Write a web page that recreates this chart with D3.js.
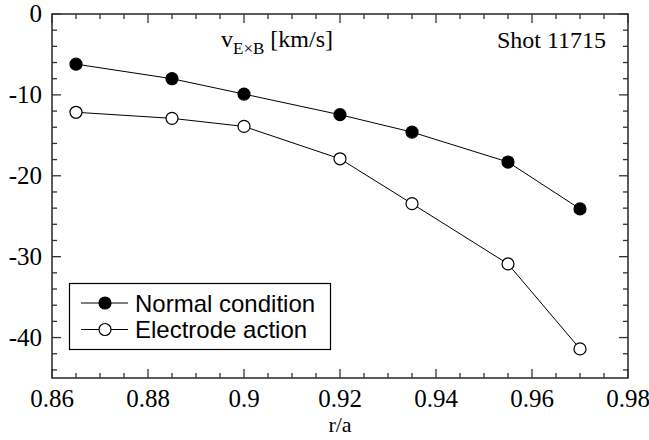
<!DOCTYPE html>
<html>
<head>
<meta charset="utf-8">
<script src="https://cdn.jsdelivr.net/npm/d3@7"></script>
<style>
  body { margin: 0; background: #fff; }
  svg { display: block; }
  .serif { font-family: 'Liberation Serif', 'DejaVu Serif', 'Times New Roman', serif; }
  .sans { font-family: 'Liberation Sans', Arial, sans-serif; }
</style>
</head>
<body>
<script>
// data
const rOverA = [0.865, 0.885, 0.9, 0.92, 0.935, 0.955, 0.97]
const normalCond = [-6.2, -8.0, -9.9, -12.45, -14.6, -18.3, -24.1]
const electrodeAct = [-12.15, -12.9, -13.9, -17.9, -23.45, -30.9, -41.4]
const xTicks = [0.86, 0.88, 0.9, 0.92, 0.94, 0.96, 0.98]
const yTicks = [0, -10, -20, -30, -40]
const seriesNames = ['Normal condition', 'Electrode action']

const W = 649, H = 440
const pLeft = 52, pRight = 628, pTop = 14, pBottom = 378

let svg = d3.select('body').append('svg').attr('width', W).attr('height', H)

let x = d3.scaleLinear().domain([0.86, 0.98]).range([pLeft, pRight])
let y = d3.scaleLinear().domain([-45, 0]).range([pBottom, pTop])

const axisCol = '#333'

// minor ticks
let xMinor = d3.range(0.86, 0.9801, 0.005)
let yMinor = d3.range(-44, 0.01, 2)

let ticks = svg.append('g').attr('stroke', axisCol).attr('stroke-width', 1.3)
xMinor.forEach(v => {
  let major = xTicks.some(t => Math.abs(t - v) < 1e-6)
  let len = major ? 9 : 5
  ticks.append('line').attr('x1', x(v)).attr('x2', x(v)).attr('y1', pBottom).attr('y2', pBottom - len)
  ticks.append('line').attr('x1', x(v)).attr('x2', x(v)).attr('y1', pTop).attr('y2', pTop + len)
})
yMinor.forEach(v => {
  let major = yTicks.some(t => Math.abs(t - v) < 1e-6)
  let len = major ? 9 : 5
  ticks.append('line').attr('y1', y(v)).attr('y2', y(v)).attr('x1', pLeft).attr('x2', pLeft + len)
  ticks.append('line').attr('y1', y(v)).attr('y2', y(v)).attr('x1', pRight).attr('x2', pRight - len)
})

// frame
svg.append('rect')
  .attr('x', pLeft).attr('y', pTop)
  .attr('width', pRight - pLeft).attr('height', pBottom - pTop)
  .attr('fill', 'none').attr('stroke', axisCol).attr('stroke-width', 1.6)

// tick labels
svg.append('g').selectAll('text').data(xTicks).enter().append('text')
  .attr('class', 'serif')
  .attr('x', d => x(d)).attr('y', 407)
  .attr('text-anchor', 'middle')
  .attr('font-size', 25)
  .text(d => d3.format('.2~f')(d))

svg.append('g').selectAll('text').data(yTicks).enter().append('text')
  .attr('class', 'serif')
  .attr('x', 42).attr('y', d => y(d) + 8)
  .attr('text-anchor', 'end')
  .attr('font-size', 25)
  .text(d => d)

svg.append('text').attr('class', 'serif')
  .attr('x', x(0.92)).attr('y', 432)
  .attr('text-anchor', 'middle')
  .attr('font-size', 22)
  .text('r/a')

// title inside plot
let t = svg.append('text').attr('class', 'serif').attr('x', 221).attr('y', 47)
  .attr('font-size', 24)
t.append('tspan').text('v')
t.append('tspan').attr('dy', 7).attr('font-size', 17).text('E×B')
t.append('tspan').attr('dy', -7).text(' [km/s]')

svg.append('text').attr('class', 'serif')
  .attr('x', 606).attr('y', 48)
  .attr('text-anchor', 'end')
  .attr('font-size', 24)
  .text('Shot 11715')

// series
let line = d3.line().x(d => x(d[0])).y(d => y(d[1]))
let series = [
  { name: seriesNames[0], vals: normalCond, fill: '#000' },
  { name: seriesNames[1], vals: electrodeAct, fill: '#fff' }
]

series.forEach(s => {
  let pts = rOverA.map((r, i) => [r, s.vals[i]])
  svg.append('path').attr('d', line(pts))
    .attr('fill', 'none').attr('stroke', '#000').attr('stroke-width', 1)
  svg.append('g').selectAll('circle').data(pts).enter().append('circle')
    .attr('cx', d => x(d[0])).attr('cy', d => y(d[1])).attr('r', 6)
    .attr('fill', s.fill).attr('stroke', '#000').attr('stroke-width', 1.2)
})

// legend
let lg = svg.append('g')
lg.append('rect').attr('x', 69.5).attr('y', 283.5).attr('width', 261).attr('height', 66)
  .attr('fill', '#fff').attr('stroke', '#000').attr('stroke-width', 1.2)

let legend = lg.selectAll('.legends').data(series).enter().append('g').classed('legends', true)
  .attr('transform', (d, i) => `translate(0,${303 + i * 26.5})`)
legend.append('line').attr('x1', 81).attr('x2', 128).attr('y1', 0).attr('y2', 0)
  .attr('stroke', '#000').attr('stroke-width', 1)
legend.append('circle').attr('cx', 105).attr('cy', 0).attr('r', 6)
  .attr('fill', d => d.fill).attr('stroke', '#000').attr('stroke-width', 1.2)
legend.append('text').attr('class', 'sans')
  .attr('x', 135).attr('y', 8.5)
  .attr('font-size', 24)
  .text(d => d.name)
</script>
</body>
</html>
